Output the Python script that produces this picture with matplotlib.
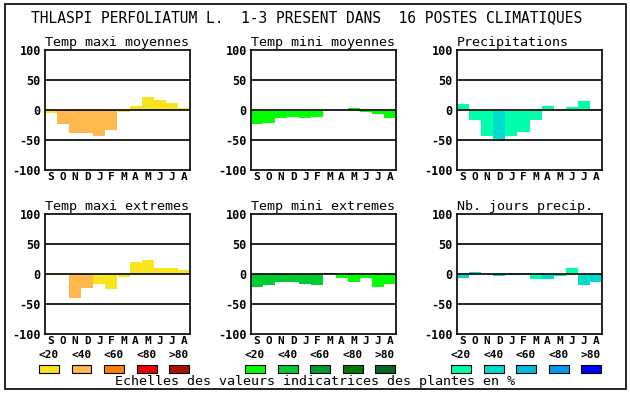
import numpy as np
import matplotlib
matplotlib.use('Agg')
import matplotlib.pyplot as plt
from matplotlib.patches import Rectangle

plt.rcParams.update({
    'font.family': 'DejaVu Sans Mono',
    'figure.facecolor': 'white',
})

MONTHS = ['S', 'O', 'N', 'D', 'J', 'F', 'M', 'A', 'M', 'J', 'J', 'A']
TITLE = 'THLASPI PERFOLIATUM L.  1-3 PRESENT DANS  16 POSTES CLIMATIQUES'
FOOTER = 'Echelles des valeurs indicatrices des plantes en %'
SCALE_LABELS = ['<20', '<40', '<60', '<80', '>80']

# palettes (one per column)
WARM  = ['#F8E41C', '#FFB84D', '#FF8000', '#EE0000', '#AA1100']
GREEN = ['#00FF00', '#00CC33', '#009933', '#007A00', '#006622']
BLUE  = ['#00FFAA', '#00DDCC', '#00BBDD', '#0099EE', '#0000FF']

# values (%) and colour class per month
tmax_moy     = [-5, -23, -38, -38, -43, -33, -4, 7, 22, 17, 12, 4]
tmax_moy_c   = [0, 1, 1, 1, 1, 1, 0, 0, 0, 0, 0, 0]
tmin_moy     = [-24, -22, -13, -11, -13, -11, 0, 0, 4, -4, -6, -13]
tmin_moy_c   = [0] * 12
precip       = [10, -17, -44, -52, -44, -37, -16, 7, 0, 5, 15, 2]
precip_c     = [0, 0, 0, 1, 0, 0, 0, 0, 0, 0, 0, 0]
tmax_ext     = [-2, -2, -40, -24, -17, -25, -5, 20, 24, 10, 10, 7]
tmax_ext_c   = [0, 0, 1, 1, 0, 0, 0, 0, 0, 0, 0, 0]
tmin_ext     = [-21, -18, -14, -13, -16, -18, 2, -6, -13, -6, -21, -16]
tmin_ext_c   = [1, 1, 1, 1, 1, 1, 1, 0, 0, 0, 0, 0]
jours_prec   = [-6, 4, 0, -4, -2, -2, -8, -8, -4, 10, -18, -13]
jours_prec_c = [1, 1, 1, 1, 1, 1, 0, 1, 1, 0, 1, 1]

PANELS = [
    ('Temp maxi moyennes', tmax_moy, tmax_moy_c, WARM),
    ('Temp mini moyennes', tmin_moy, tmin_moy_c, GREEN),
    ('Precipitations', precip, precip_c, BLUE),
    ('Temp maxi extremes', tmax_ext, tmax_ext_c, WARM),
    ('Temp mini extremes', tmin_ext, tmin_ext_c, GREEN),
    ('Nb. jours precip.', jours_prec, jours_prec_c, BLUE),
]

W, H = 630, 394
fig = plt.figure(figsize=(W / 100, H / 100), dpi=100)

# outer frame
fig.patches.append(Rectangle((5 / W, 1 - 389 / H), 621 / W, 385 / H,
                             transform=fig.transFigure, fill=False,
                             edgecolor='black', lw=1.2))

fig.text(31 / W, 1 - 18 / H, TITLE, fontsize=10.5, va='center', ha='left')

lefts = [45, 251, 457]
tops = [50, 214]
for i, (name, vals, cls, pal) in enumerate(PANELS):
    col, row = i % 3, i // 3
    x0, y0 = lefts[col], tops[row]
    ax = fig.add_axes([x0 / W, 1 - (y0 + 120) / H, 145 / W, 120 / H])
    x = np.arange(12)
    ax.bar(x, vals, width=1.0, align='edge',
           color=[pal[c] for c in cls], linewidth=0)
    for yv in (50, 0, -50):
        ax.axhline(yv, color='black', lw=1.2, zorder=3)
    ax.set_xlim(0, 12)
    ax.set_ylim(-100, 100)
    ax.set_yticks([100, 50, 0, -50, -100])
    ax.set_yticklabels(['100', '50', '0', '-50', '-100'],
                       fontsize=8.5, fontweight='bold')
    ax.set_xticks(x + 0.5)
    ax.set_xticklabels(MONTHS, fontsize=8, fontweight='bold')
    ax.tick_params(axis='y', length=0, pad=3)
    ax.tick_params(axis='x', length=0, pad=1.5)
    for s in ax.spines.values():
        s.set_linewidth(1.2)
    ax.set_title(name, fontsize=9.6, pad=3, loc='left')

    # colour scale legend under the bottom row
    if row == 1:
        for k, (lab, c) in enumerate(zip(SCALE_LABELS, pal)):
            bx = x0 - 6 + k * 32.5
            fig.text((bx + 10) / W, 1 - 355 / H, lab, fontsize=8,
                     fontweight='bold', ha='center', va='center')
            fig.patches.append(Rectangle((bx / W, 1 - 373 / H), 20 / W, 8 / H,
                                         transform=fig.transFigure,
                                         facecolor=c, edgecolor='black', lw=0.8))

fig.text(315 / W, 1 - 382 / H, FOOTER, fontsize=9.6, ha='center', va='center')

fig.savefig('out.png', dpi=100)
